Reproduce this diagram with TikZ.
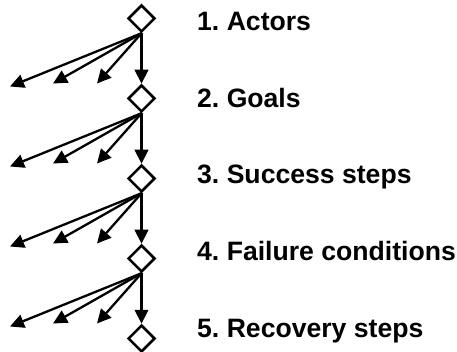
\documentclass[tikz,border=0pt]{standalone}
\usepackage{fontspec}
\setmainfont{Liberation Sans}
\usetikzlibrary{shapes.geometric,arrows.meta}
\begin{document}
\begin{tikzpicture}[x=1pt,y=-1pt,
  dia/.style={draw,diamond,line width=2.5pt,minimum size=27pt,inner sep=0pt,fill=white},
  link/.style={line width=2.3pt,-{Triangle[length=14pt,width=13.5pt]}},
  lbl/.style={anchor=base west,inner sep=0pt,font=\frenchspacing\bfseries\fontsize{26.6}{30}\selectfont}]
\useasboundingbox (0,0) rectangle (457,352);
\foreach \i/\t in {1/1. Actors,2/2. Goals,3/3. Success steps,4/4. Failure conditions,5/5. Recovery steps}{
  \pgfmathsetmacro{\yc}{18.5+80*(\i-1)}
  \pgfmathsetmacro{\yb}{31+76.5*(\i-1)}
  \node[dia] (d\i) at (141.5,\yc) {};
  \node[lbl] (t\i) at (197,\yb) {\t};
}
\foreach \i in {1,2,3,4}{
  \pgfmathsetmacro{\yc}{18.5+80*(\i-1)}
  \coordinate (a\i) at (10,\yc+68);
  \coordinate (b\i) at (53,\yc+65);
  \coordinate (c\i) at (97,\yc+65);
}
\foreach \i/\j in {1/2,2/3,3/4,4/5}{
  \draw[link] (d\i.south) -- (d\j.north);
  \draw[link] (d\i.south) -- (a\i);
  \draw[link] (d\i.south) -- (b\i);
  \draw[link] (d\i.south) -- (c\i);
}
\end{tikzpicture}
\end{document}
